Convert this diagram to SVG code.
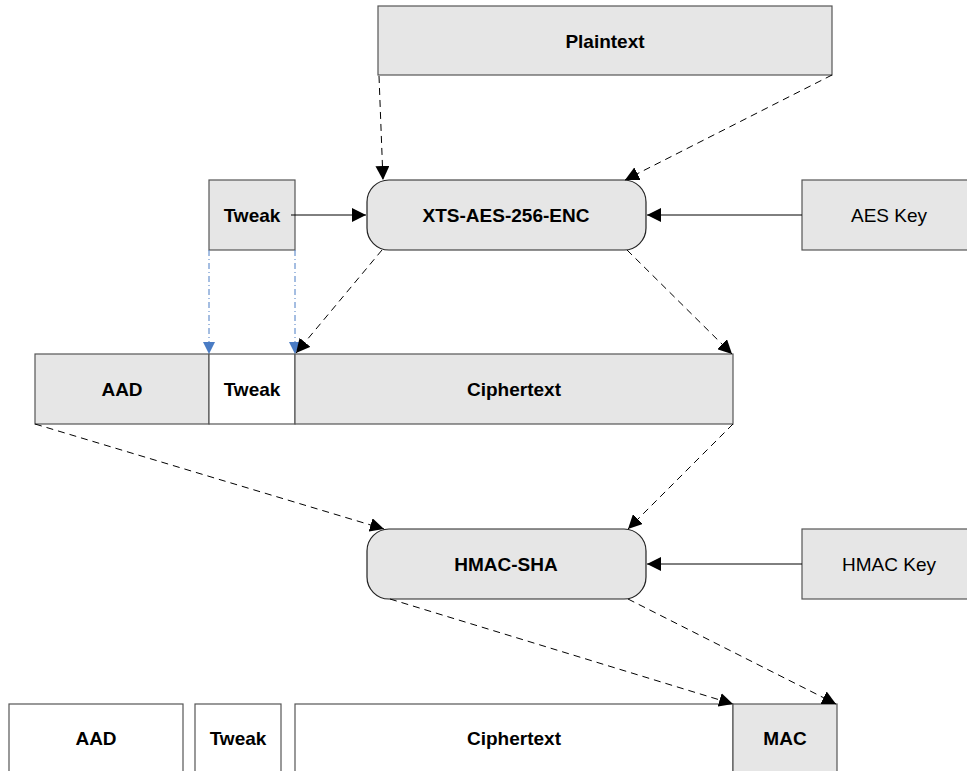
<svg xmlns="http://www.w3.org/2000/svg" width="967" height="771" viewBox="0 0 967 771">
<style>
.box{fill:#e6e6e6;stroke:#555;stroke-width:1.2}
.wbox{fill:#fff;stroke:#555;stroke-width:1.2}
.rnd{fill:#e6e6e6;stroke:#222;stroke-width:1.2}
.t{font-family:"Liberation Sans",Arial,sans-serif;font-size:19px;font-weight:bold;text-anchor:middle;dominant-baseline:central;fill:#000}
.n{font-family:"Liberation Sans",Arial,sans-serif;font-size:19px;text-anchor:middle;dominant-baseline:central;fill:#000}
.dash{stroke:#000;stroke-width:1;fill:none;stroke-dasharray:7,5}
.solid{stroke:#000;stroke-width:1;fill:none}
.blue{stroke:#4a7cc4;stroke-width:1;fill:none;stroke-dasharray:6,3,1,3}
</style>
<defs>
<marker id="ah" viewBox="0 0 10 10" refX="10" refY="5" markerWidth="14" markerHeight="14" markerUnits="userSpaceOnUse" orient="auto"><path d="M0,0L10,5L0,10Z" fill="#000"/></marker>
<marker id="bh" viewBox="0 0 10 10" refX="10" refY="5" markerWidth="12" markerHeight="12" markerUnits="userSpaceOnUse" orient="auto"><path d="M0,0L10,5L0,10Z" fill="#4a7cc4"/></marker>
</defs>
<g id="plaintext"><rect class="box" x="378" y="6" width="454" height="69"/><text class="t" x="605" y="41">Plaintext</text></g>
<g id="tweak-in"><rect class="box" x="209" y="180" width="86" height="70"/><text class="t" x="252" y="215">Tweak</text></g>
<g id="xts"><rect class="rnd" x="367" y="180" width="279" height="70" rx="22" ry="22"/><text class="t" x="506" y="215">XTS-AES-256-ENC</text></g>
<g id="aes-key"><rect class="box" x="802" y="180" width="170" height="70"/><text class="n" x="889" y="215">AES Key</text></g>
<g id="mid-aad"><rect class="box" x="35" y="354" width="174" height="70"/><text class="t" x="122" y="389">AAD</text></g>
<g id="mid-tweak"><rect class="wbox" x="209" y="354" width="86" height="70"/><text class="t" x="252" y="389">Tweak</text></g>
<g id="mid-cipher"><rect class="box" x="295" y="354" width="438" height="70"/><text class="t" x="514" y="389">Ciphertext</text></g>
<g id="hmac"><rect class="rnd" x="367" y="529" width="279" height="70" rx="22" ry="22"/><text class="t" x="506" y="564">HMAC-SHA</text></g>
<g id="hmac-key"><rect class="box" x="802" y="529" width="170" height="70"/><text class="n" x="889" y="564">HMAC Key</text></g>
<g id="out-aad"><rect class="wbox" x="9" y="704" width="174" height="80"/><text class="t" x="96" y="738">AAD</text></g>
<g id="out-tweak"><rect class="wbox" x="195" y="704" width="86" height="80"/><text class="t" x="238" y="738">Tweak</text></g>
<g id="out-cipher"><rect class="wbox" x="295" y="704" width="438" height="80"/><text class="t" x="514" y="738">Ciphertext</text></g>
<g id="out-mac"><rect class="box" x="733" y="704" width="104" height="80"/><text class="t" x="785" y="738">MAC</text></g>
<g id="connectors">
<line class="dash" x1="379" y1="76" x2="383" y2="180" marker-end="url(#ah)"/>
<line class="dash" x1="832" y1="75" x2="625" y2="180" marker-end="url(#ah)"/>
<line class="solid" x1="291" y1="215" x2="366" y2="215" marker-end="url(#ah)"/>
<line class="solid" x1="802" y1="215" x2="647" y2="215" marker-end="url(#ah)"/>
<line class="blue" x1="209" y1="250" x2="209" y2="354" marker-end="url(#bh)"/>
<line class="blue" x1="295" y1="250" x2="295" y2="354" marker-end="url(#bh)"/>
<line class="dash" x1="382" y1="250" x2="296" y2="353" marker-end="url(#ah)"/>
<line class="dash" x1="627" y1="250" x2="732" y2="354" marker-end="url(#ah)"/>
<line class="dash" x1="35" y1="424" x2="384" y2="529" marker-end="url(#ah)"/>
<line class="dash" x1="733" y1="424" x2="628" y2="529" marker-end="url(#ah)"/>
<line class="solid" x1="802" y1="564" x2="647" y2="564" marker-end="url(#ah)"/>
<line class="dash" x1="390" y1="599" x2="733" y2="704" marker-end="url(#ah)"/>
<line class="dash" x1="628" y1="599" x2="836" y2="704" marker-end="url(#ah)"/>
</g>
</svg>
